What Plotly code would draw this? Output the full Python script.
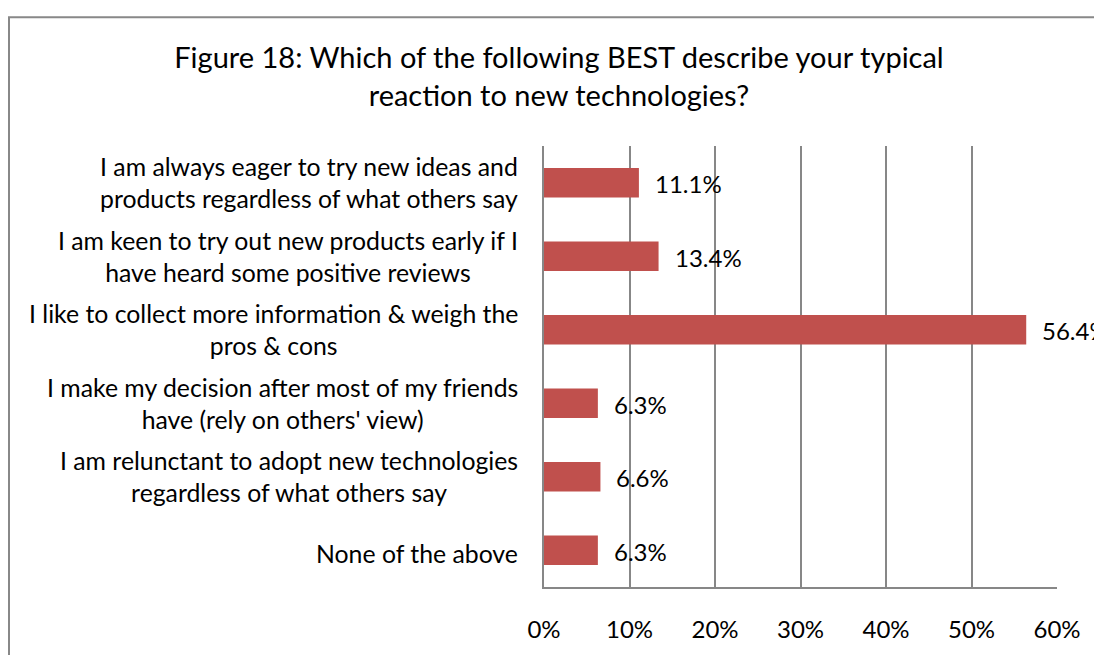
import plotly.graph_objects as go

categories = [
    "I am always eager to try new ideas and<br>products regardless of what others say",
    "I am keen to try out new products early if I<br>have heard some positive reviews",
    "I like to collect more information & weigh the<br>pros & cons",
    "I make my decision after most of my friends<br>have (rely on others' view)",
    "I am relunctant to adopt new technologies<br>regardless of what others say",
    "None of the above",
]
values = [11.1, 13.4, 56.4, 6.3, 6.6, 6.3]
value_labels = ["11.1%", "13.4%", "56.4%", "6.3%", "6.6%", "6.3%"]
tick_vals = [0, 10, 20, 30, 40, 50, 60]
tick_text = ["0%", "10%", "20%", "30%", "40%", "50%", "60%"]
title_text = "Figure 18: Which of the following BEST describe your typical<br>reaction to new technologies?"

W, H = 1094, 655
ML, MR, MT, MB = 544, 37, 146, 60
FONT = "Lato"
GRID = "#878787"
pw = W - ML - MR
ph = H - MT - MB

fig = go.Figure()
fig.add_trace(go.Bar(
    y=categories, x=values, orientation="h",
    marker=dict(color="#C0504D", line=dict(width=0)),
    width=0.40, hoverinfo="skip",
))

annotations = []
for c, v, t in zip(categories, values, value_labels):
    annotations.append(dict(x=v, y=c, xref="x", yref="y", text=t, showarrow=False,
                            xanchor="left", yanchor="middle", xshift=14, yshift=-1,
                            font=dict(family=FONT, size=24, color="#000")))
    single = "<br>" not in c
    annotations.append(dict(x=0, y=c, xref="paper", yref="y", text=c, showarrow=False,
                            xanchor="right", yanchor="middle", xshift=-24,
                            yshift=-3 if single else 0, align="center",
                            font=dict(family=FONT, size=24.8, color="#000")))

def px_x(p):
    return (p - ML) / pw

def px_y(p):
    return (H - MB - p) / ph

shapes = [dict(type="rect", xref="paper", yref="paper",
               x0=px_x(9), x1=px_x(W + 20), y0=px_y(15), y1=px_y(H + 20),
               line=dict(color="#888888", width=2), layer="below")]

fig.update_layout(
    width=W, height=H,
    margin=dict(l=ML, r=MR, t=MT, b=MB),
    paper_bgcolor="white", plot_bgcolor="white",
    showlegend=False,
    title=dict(text=title_text, x=559 / W, xanchor="center", xref="container",
               y=1 - 68 / H, yanchor="middle", yref="container",
               font=dict(family=FONT, size=29, color="#000")),
    xaxis=dict(range=[0, 60], tickvals=tick_vals, ticktext=tick_text,
               showgrid=True, gridcolor=GRID, gridwidth=2,
               showline=True, linecolor=GRID, linewidth=2,
               zeroline=False, ticks="", ticklen=0, ticklabelstandoff=20,
               tickfont=dict(family=FONT, size=24, color="#000")),
    yaxis=dict(autorange="reversed", showticklabels=False,
               showline=True, linecolor=GRID, linewidth=2,
               showgrid=False, zeroline=False, ticks=""),
    annotations=annotations,
    shapes=shapes,
)
fig.update_traces(cliponaxis=False)
fig.write_html("out.html")
